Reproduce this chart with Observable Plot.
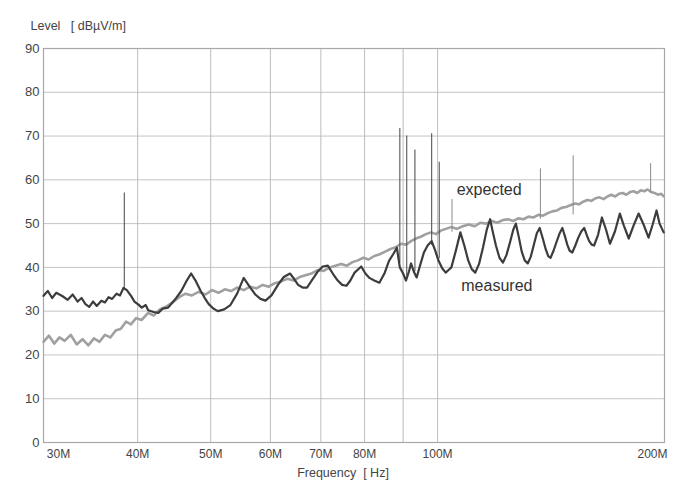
<!DOCTYPE html>
<html>
<head>
<meta charset="utf-8">
<script src="https://cdn.jsdelivr.net/npm/d3@7"></script>
<script src="https://cdn.jsdelivr.net/npm/@observablehq/plot@0.6"></script>
<style>
  html, body { margin: 0; padding: 0; background: #fff; }
  #chart { width: 690px; height: 481px; }
</style>
</head>
<body>
<div id="chart"></div>
<script>
// ---- Data (MHz, dBµV/m) ----
const measuredFreq = [30.0,30.4,30.8,31.2,31.8,32.3,32.8,33.3,33.7,34.1,34.5,34.9,35.3,35.8,36.2,36.6,37.0,37.5,37.9,38.3,38.7,39.2,39.6,40.1,40.5,41.0,41.3,42.0,42.6,43.2,43.9,44.8,45.7,46.4,47.1,47.8,48.5,49.1,49.7,50.4,51.1,52.1,53.1,54.2,55.3,56.3,57.3,58.2,59.1,60.2,61.4,62.5,63.7,64.5,65.3,66.2,67.1,68.2,69.3,70.4,71.5,72.6,73.7,74.7,75.7,76.6,77.6,79.2,80.2,81.2,82.4,83.7,85.0,86.2,87.3,88.3,89.1,90.0,90.8,91.6,92.2,93.0,93.8,94.8,95.9,97.0,98.2,99.2,100.3,101.4,102.5,103.4,104.3,105.8,107.2,108.5,109.8,111.0,112.2,113.5,114.9,116.2,117.4,118.4,119.5,120.8,122.1,123.4,124.7,126.0,127.0,128.2,129.3,130.5,131.7,132.9,134.1,135.4,136.6,137.9,139.1,140.2,141.2,142.5,143.8,145.2,146.4,147.5,148.6,149.7,150.9,152.3,153.7,155.1,156.5,157.7,158.9,160.1,161.3,163.3,165.2,167.3,169.3,171.9,174.5,176.6,179.3,182.0,184.8,187.6,190.5,192.9,195.2,197.0,199.5];
const measuredLevel = [33.5,34.6,33.0,34.2,33.4,32.6,33.8,32.2,33.0,31.6,31.0,32.2,31.2,32.4,32.0,33.2,32.8,34.0,33.6,35.3,34.8,33.5,32.2,31.5,30.8,31.4,30.2,29.8,29.6,30.6,30.8,32.6,34.6,36.8,38.6,36.8,34.6,33.0,31.6,30.6,30.0,30.4,31.4,34.0,37.6,35.6,33.8,32.8,32.4,33.6,36.0,37.8,38.6,37.4,36.0,35.4,35.4,37.2,39.0,40.2,40.4,38.6,37.0,36.0,35.8,37.0,38.8,40.2,38.6,37.6,37.0,36.5,38.6,41.5,43.0,44.5,40.0,38.6,37.0,39.0,40.9,39.0,37.7,40.5,43.4,45.0,46.0,44.0,41.5,39.8,38.8,39.4,40.0,44.0,48.0,45.0,41.6,39.6,38.8,40.8,44.6,48.6,51.0,48.0,45.0,42.2,41.1,42.8,45.6,48.6,50.0,46.8,43.6,41.6,40.9,42.4,45.0,47.8,49.0,46.6,44.2,42.6,42.2,43.8,45.8,47.8,49.0,47.2,45.2,43.8,43.4,45.0,46.8,48.2,49.0,47.4,46.0,45.2,45.0,47.5,51.4,48.6,45.4,48.2,52.3,49.6,46.6,49.6,52.3,49.8,46.8,49.8,53.0,50.0,48.0];

const expectedFreq = [30.0,30.5,31.0,31.5,32.0,32.6,33.2,33.8,34.4,35.0,35.6,36.2,36.8,37.4,38.0,38.6,39.2,39.8,40.5,41.3,42.0,42.8,43.6,44.5,45.4,46.3,47.2,48.2,49.2,50.2,51.2,52.2,53.2,54.2,55.3,56.4,57.5,58.6,59.7,60.8,62.0,63.2,64.4,65.6,66.8,68.0,69.3,70.6,71.9,73.2,74.5,75.8,77.1,78.4,79.7,81.0,82.4,83.8,85.2,86.6,88.0,89.4,90.8,92.2,93.6,95.0,96.5,98.0,99.5,101.0,102.5,104.2,106.0,108.0,110.0,112.0,114.0,116.0,118.0,120.0,122.0,124.0,126.0,128.0,130.0,132.0,134.0,136.0,138.0,140.0,142.0,144.0,146.0,148.0,150.0,152.0,154.0,156.0,158.0,160.0,162.0,164.0,166.0,168.0,170.0,172.0,174.0,176.0,178.0,180.0,182.0,184.0,186.0,188.0,190.0,192.0,194.0,196.0,198.0,199.5];
const expectedLevel = [23.0,24.4,22.6,24.0,23.2,24.6,22.4,23.6,22.2,23.8,23.0,24.6,24.0,25.6,26.0,27.6,27.0,28.4,28.0,29.6,29.0,30.4,31.0,32.0,33.2,34.0,33.6,34.4,33.8,34.8,34.2,35.0,34.6,35.4,34.8,35.6,35.2,36.0,35.6,36.4,36.8,37.4,37.0,37.8,38.2,38.6,39.4,39.2,40.0,40.4,40.8,40.4,41.2,41.6,42.2,41.8,42.6,43.0,43.6,44.2,44.6,45.4,45.2,46.0,46.6,47.0,47.6,48.0,47.6,48.4,48.8,49.2,48.8,49.4,49.8,49.4,50.2,50.0,50.6,50.2,50.8,51.0,50.6,51.2,51.0,51.6,51.4,52.0,51.8,52.4,52.8,53.0,53.6,53.8,54.2,54.6,54.4,55.0,55.4,55.2,55.8,56.0,55.6,56.2,56.6,56.2,56.8,57.0,56.6,57.2,57.4,57.0,57.6,57.4,57.8,57.2,57.0,56.6,56.8,56.2];

// narrow-band spikes on the measured trace
const spikeFreq = [38.4, 89.1, 91.0, 93.3, 98.2, 100.5];
const spikeBase = [35.0, 41.0, 38.0, 39.0, 45.0, 42.0];
const spikeTop  = [57.0, 71.7, 70.0, 66.8, 70.5, 64.0];
// spikes on the expected trace
const spikeFreq2 = [104.5, 136.9, 151.3, 191.7];
const spikeBase2 = [48.0, 51.0, 52.0, 57.0];
const spikeTop2  = [55.5, 62.5, 65.5, 63.7];

const xGridVals = [40, 50, 60, 70, 80, 90, 100];
const xTickVals = [40, 50, 60, 70, 80, 100];
const yTickVals = [0, 10, 20, 30, 40, 50, 60, 70, 80, 90];
const yGridVals = [10, 20, 30, 40, 50, 60, 70, 80];

const measured = measuredFreq.map((f, i) => ({f, v: measuredLevel[i]}));
const expected = expectedFreq.map((f, i) => ({f, v: expectedLevel[i]}));
const spikes = spikeFreq.map((f, i) => ({f, y1: spikeBase[i], y2: spikeTop[i]}));
const spikes2 = spikeFreq2.map((f, i) => ({f, y1: spikeBase2[i], y2: spikeTop2[i]}));

const font = "Liberation Sans, Arial, sans-serif";
const fmt = d => d + "M";
const axisOpts = {tickSize: 0, tickPadding: 7, fontSize: 12, label: null, tickFormat: fmt, fill: "#444"};

const chart = Plot.plot({
  width: 690,
  height: 481,
  marginLeft: 43,
  marginRight: 26,
  marginTop: 48,
  marginBottom: 39,
  style: {fontFamily: font, background: "#fff", color: "#333"},
  x: {type: "log", domain: [30, 200]},
  y: {domain: [0, 90]},
  marks: [
    Plot.ruleY(yGridVals, {stroke: "#c4c4c4", strokeWidth: 1}),
    Plot.ruleX(xGridVals, {stroke: "#bdbdbd", strokeWidth: 1}),
    Plot.frame({stroke: "#a8a8a8", strokeWidth: 1.2}),
    Plot.line(expected, {x: "f", y: "v", stroke: "#a0a0a0", strokeWidth: 2.6, strokeLinejoin: "round"}),
    Plot.ruleX(spikes2, {x: "f", y1: "y1", y2: "y2", stroke: "#8a8a8a", strokeWidth: 1}),
    Plot.ruleX(spikes, {x: "f", y1: "y1", y2: "y2", stroke: "#555", strokeWidth: 1.1}),
    Plot.line(measured, {x: "f", y: "v", stroke: "#3c3c3c", strokeWidth: 2.2, strokeLinejoin: "round"}),
    Plot.axisY(yTickVals, {tickSize: 0, tickPadding: 4, fontSize: 13, label: null, fill: "#444"}),
    Plot.axisX(xTickVals, axisOpts),
    Plot.axisX([30], {...axisOpts, dx: 15}),
    Plot.axisX([200], {...axisOpts, dx: -12}),
    Plot.text(["Level   [ dBµV/m]"], {frameAnchor: "top-left", dx: -13, dy: -27, fontSize: 12.5, fill: "#444", textAnchor: "start"}),
    Plot.text(["Frequency  [ Hz]"], {frameAnchor: "bottom", dx: -11, dy: 34, fontSize: 12.5, fill: "#444"}),
    Plot.text(["expected"], {x: [106], y: [57.8], fontSize: 16, fill: "#333", textAnchor: "start"}),
    Plot.text(["measured"], {x: [107.5], y: [35.8], fontSize: 16, fill: "#333", textAnchor: "start"})
  ]
});
document.getElementById("chart").appendChild(chart);
</script>
</body>
</html>
